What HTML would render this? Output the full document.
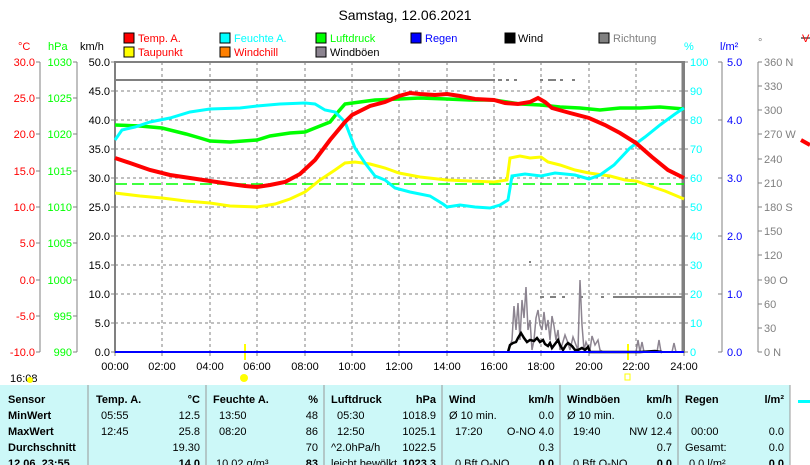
<!DOCTYPE html>
<html><head><meta charset="utf-8"><style>
body{margin:0;background:#fff;width:810px;height:465px;overflow:hidden;font-family:"Liberation Sans",sans-serif;}
svg{position:absolute;left:0;top:0}
.t{font-size:11px}
</style></head><body>
<svg width="810" height="465" xmlns="http://www.w3.org/2000/svg" font-family="Liberation Sans, sans-serif" font-size="11">
<text x="405" y="20" text-anchor="middle" font-size="14">Samstag, 12.06.2021</text>
<!-- legend -->
<g stroke="#000" stroke-width="1">
<rect x="124" y="33" width="10" height="10" fill="#f00"/><rect x="220" y="33" width="10" height="10" fill="#0ff"/><rect x="316" y="33" width="10" height="10" fill="#0f0"/><rect x="411" y="33" width="10" height="10" fill="#00f"/><rect x="505" y="33" width="10" height="10" fill="#000"/><rect x="599" y="33" width="10" height="10" fill="#808080"/>
<rect x="124" y="47" width="10" height="10" fill="#ff0"/><rect x="220" y="47" width="10" height="10" fill="#ff8000"/><rect x="316" y="47" width="10" height="10" fill="#8c8490"/>
</g>
<g class="t">
<text x="138" y="42" fill="#f00">Temp. A.</text><text x="234" y="42" fill="#0ff">Feuchte A.</text><text x="330" y="42" fill="#0f0">Luftdruck</text><text x="425" y="42" fill="#00f">Regen</text><text x="518" y="42">Wind</text><text x="613" y="42" fill="#808080">Richtung</text>
<text x="138" y="56" fill="#f00">Taupunkt</text><text x="234" y="56" fill="#f00">Windchill</text><text x="330" y="56">Windböen</text>
<text x="18" y="50" fill="#f00">°C</text><text x="48" y="50" fill="#0f0">hPa</text><text x="80" y="50">km/h</text>
<text x="684" y="50" fill="#0ff">%</text><text x="720" y="50" fill="#00f">l/m²</text><text x="758" y="46" fill="#808080">°</text>
</g>
<!-- grid -->
<g stroke="#808080" stroke-dasharray="3,3" stroke-width="1">
<line x1="115" y1="91" x2="684" y2="91"/><line x1="115" y1="120" x2="684" y2="120"/><line x1="115" y1="149" x2="684" y2="149"/><line x1="115" y1="178" x2="684" y2="178"/><line x1="115" y1="207" x2="684" y2="207"/><line x1="115" y1="236" x2="684" y2="236"/><line x1="115" y1="265" x2="684" y2="265"/><line x1="115" y1="294" x2="684" y2="294"/><line x1="115" y1="323" x2="684" y2="323"/>
<line x1="162" y1="62" x2="162" y2="352"/><line x1="210" y1="62" x2="210" y2="352"/><line x1="257" y1="62" x2="257" y2="352"/><line x1="305" y1="62" x2="305" y2="352"/><line x1="352" y1="62" x2="352" y2="352"/><line x1="399" y1="62" x2="399" y2="352"/><line x1="447" y1="62" x2="447" y2="352"/><line x1="494" y1="62" x2="494" y2="352"/><line x1="541" y1="62" x2="541" y2="352"/><line x1="589" y1="62" x2="589" y2="352"/><line x1="636" y1="62" x2="636" y2="352"/>
</g>
<rect x="115" y="62" width="569" height="290" fill="none" stroke="#808080" stroke-width="2"/>
<line x1="683" y1="62" x2="683" y2="352" stroke="#808080" stroke-width="3"/>
<!-- axes -->
<g stroke="#808080">
<line x1="40" y1="62" x2="40" y2="352"/><line x1="77" y1="62" x2="77" y2="352"/><line x1="722" y1="62" x2="722" y2="352"/><line x1="758" y1="62" x2="758" y2="352"/>
</g>
<g id="ticks" stroke="#808080">
<path d="M36 62h4M36 98h4M36 134h4M36 171h4M36 207h4M36 243h4M36 280h4M36 316h4M36 352h4M73 62h4M73 98h4M73 134h4M73 171h4M73 207h4M73 243h4M73 280h4M73 316h4M73 352h4M111 62h4M111 91h4M111 120h4M111 149h4M111 178h4M111 207h4M111 236h4M111 265h4M111 294h4M111 323h4M111 352h4M684 62h4M684 91h4M684 120h4M684 149h4M684 178h4M684 207h4M684 236h4M684 265h4M684 294h4M684 323h4M684 352h4M718 62h4M718 120h4M718 178h4M718 236h4M718 294h4M718 352h4M758 62h4M758 86h4M758 110h4M758 134h4M758 159h4M758 183h4M758 207h4M758 231h4M758 255h4M758 280h4M758 304h4M758 328h4M758 352h4"/>
<path d="M115 352v4M162 352v4M210 352v4M257 352v4M305 352v4M352 352v4M399 352v4M447 352v4M494 352v4M541 352v4M589 352v4M636 352v4M684 352v4"/>
</g>
<g font-size="11" text-anchor="end" fill="#f00">
<text x="35" y="66">30.0</text><text x="35" y="102">25.0</text><text x="35" y="138">20.0</text><text x="35" y="175">15.0</text><text x="35" y="211">10.0</text><text x="35" y="247">5.0</text><text x="35" y="284">0.0</text><text x="35" y="320">-5.0</text><text x="35" y="356">-10.0</text>
</g>
<g font-size="11" text-anchor="end" fill="#0f0">
<text x="72" y="66">1030</text><text x="72" y="102">1025</text><text x="72" y="138">1020</text><text x="72" y="175">1015</text><text x="72" y="211">1010</text><text x="72" y="247">1005</text><text x="72" y="284">1000</text><text x="72" y="320">995</text><text x="72" y="356">990</text>
</g>
<g font-size="11" text-anchor="end">
<text x="110" y="66">50.0</text><text x="110" y="95">45.0</text><text x="110" y="124">40.0</text><text x="110" y="153">35.0</text><text x="110" y="182">30.0</text><text x="110" y="211">25.0</text><text x="110" y="240">20.0</text><text x="110" y="269">15.0</text><text x="110" y="298">10.0</text><text x="110" y="327">5.0</text><text x="110" y="356">0.0</text>
</g>
<g font-size="11" fill="#0ff">
<text x="690" y="66">100</text><text x="690" y="95">90</text><text x="690" y="124">80</text><text x="690" y="153">70</text><text x="690" y="182">60</text><text x="690" y="211">50</text><text x="690" y="240">40</text><text x="690" y="269">30</text><text x="690" y="298">20</text><text x="690" y="327">10</text><text x="690" y="356">0</text>
</g>
<g font-size="11" fill="#00f">
<text x="727" y="66">5.0</text><text x="727" y="124">4.0</text><text x="727" y="182">3.0</text><text x="727" y="240">2.0</text><text x="727" y="298">1.0</text><text x="727" y="356">0.0</text>
</g>
<g font-size="11" fill="#808080">
<text x="764" y="66">360 N</text><text x="764" y="90">330</text><text x="764" y="114">300</text><text x="764" y="138">270 W</text><text x="764" y="163">240</text><text x="764" y="187">210</text><text x="764" y="211">180 S</text><text x="764" y="235">150</text><text x="764" y="259">120</text><text x="764" y="284">90  O</text><text x="764" y="308">60</text><text x="764" y="332">30</text><text x="764" y="356">0   N</text>
</g>
<g font-size="11" text-anchor="middle">
<text x="115" y="370">00:00</text><text x="162" y="370">02:00</text><text x="210" y="370">04:00</text><text x="257" y="370">06:00</text><text x="305" y="370">08:00</text><text x="352" y="370">10:00</text><text x="399" y="370">12:00</text><text x="447" y="370">14:00</text><text x="494" y="370">16:00</text><text x="541" y="370">18:00</text><text x="589" y="370">20:00</text><text x="636" y="370">22:00</text><text x="684" y="370">24:00</text>
</g>
<text x="10" y="382" font-size="11">16:08</text>
<circle cx="30" cy="380" r="3" fill="#ff0"/>
<circle cx="244" cy="378" r="4" fill="#ff0"/>
<rect x="625" y="374" width="5" height="6" fill="none" stroke="#ff0"/>
<line x1="245" y1="344" x2="245" y2="360" stroke="#ff0" stroke-width="2"/>
<line x1="628" y1="344" x2="628" y2="360" stroke="#ff0" stroke-width="2"/>
<!-- direction -->
<line x1="115" y1="80" x2="495" y2="80" stroke="#808080" stroke-width="2"/>
<path d="M498 80h4M506 80h3M514 80h3M540 80h3M548 80h8M560 80h3M572 80h3" stroke="#808080" stroke-width="2"/>
<line x1="613" y1="297" x2="684" y2="297" stroke="#808080" stroke-width="2"/>
<path d="M540 297h4M550 297h6M562 297h3M580 297h3M601 297h3M529 262h2" stroke="#808080" stroke-width="2"/>
<!-- gusts -->
<polyline fill="none" stroke="#8c8490" stroke-width="1.5" points="508,352 512,340 514,306 516,330 518,303 520,340 522,300 524,318 526,287 528,330 530,320 532,350 534,340 536,318 538,310 540,325 542,330 544,312 546,330 548,320 550,340 552,316 554,326 556,340 558,330 560,350 562,345 565,335 568,343 570,350 573,337 576,345 578,350 580,280 582,325 584,350 586,342 588,347 590,350 592,336 595,345 598,340 600,350 603,352 636,352 638,340 640,352 642,342 644,352 657,352 659,340 661,352 672,352 674,343 676,352"/>
<polyline fill="none" stroke="#000" stroke-width="2.5" points="508,352 510,345 513,343 516,342 518,338 521,333 524,338 527,342 530,340 534,341 537,338 540,342 543,340 545,344 548,346 550,343 552,348 555,344 558,340 560,345 563,350 566,345 568,343 572,346 575,350 578,350 582,348 585,350 588,347 590,352 595,352 630,352 640,352 655,351 662,352"/>
<line x1="115" y1="352" x2="684" y2="352" stroke="#00f" stroke-width="2"/>
<!-- dashed green -->
<line x1="115" y1="184" x2="684" y2="184" stroke="#0f0" stroke-width="1.5" stroke-dasharray="12,5"/>
<!-- series -->
<polyline fill="none" stroke="#ff0" stroke-width="3" points="115,193 140,196 162,198 186,201 210,203 230,206 257,207 275,204 290,199 305,192 320,180 335,170 345,163 355,162 370,164 385,168 399,173 420,177 447,180 470,181 494,182 507,180 510,158 520,156 530,158 541,157 548,162 560,165 575,170 589,173 610,176 625,180 636,181 650,186 665,191 684,199"/>
<polyline fill="none" stroke="#0f0" stroke-width="3.5" points="115,125 140,126 162,128 186,134 200,138 210,141 230,142 257,140 270,136 290,133 305,132 320,126 330,122 338,112 345,104 360,102 375,100 399,99 420,98 447,99 470,100 494,100 520,104 541,105 560,107 580,108 600,110 620,108 640,108 660,107 684,109"/>
<polyline fill="none" stroke="#0ff" stroke-width="3" points="115,140 122,130 135,127 150,122 170,118 190,112 210,109 240,108 257,106 280,104 305,103 315,104 325,110 335,112 345,122 355,148 365,163 375,176 385,180 395,188 410,192 430,196 443,204 447,207 460,205 475,207 490,208 500,205 508,200 512,176 525,174 541,176 555,173 575,175 589,179 600,175 614,165 630,148 645,137 660,125 675,114 684,108"/>
<polyline fill="none" stroke="#f00" stroke-width="4" points="115,158 130,163 150,170 170,175 190,178 210,181 230,184 245,186 257,187 270,185 285,182 300,174 315,160 330,140 345,122 352,115 370,106 385,102 399,96 410,93 420,94 435,95 447,94 460,96 475,99 494,100 505,103 518,104 530,102 538,98 545,102 552,108 570,113 589,118 605,125 620,133 636,143 652,157 668,170 684,178"/>
<!-- right partial -->
<path d="M801 38h10" stroke="#808080" stroke-width="2"/><text x="802" y="42" fill="#f00" font-size="11">V</text>
<path d="M801 140l9 5" stroke="#f00" stroke-width="4"/>
<!-- table -->
<rect x="0" y="385" width="790" height="80" fill="#ccf8f8"/>
<g stroke="#999" stroke-width="1">
<line x1="88" y1="385" x2="88" y2="465"/><line x1="206" y1="385" x2="206" y2="465"/><line x1="324" y1="385" x2="324" y2="465"/><line x1="442" y1="385" x2="442" y2="465"/><line x1="560" y1="385" x2="560" y2="465"/><line x1="678" y1="385" x2="678" y2="465"/><line x1="790" y1="385" x2="790" y2="465"/>
</g>
<rect x="798" y="400" width="12" height="3" fill="#0ff"/>
<g font-size="11" font-weight="bold">
<text x="8" y="403">Sensor</text><text x="8" y="419">MinWert</text><text x="8" y="435">MaxWert</text><text x="8" y="451">Durchschnitt</text><text x="8" y="467">12.06. 23:55</text>
<text x="96" y="403">Temp. A.</text><text x="200" y="403" text-anchor="end">°C</text>
<text x="213" y="403">Feuchte A.</text><text x="318" y="403" text-anchor="end">%</text>
<text x="331" y="403">Luftdruck</text><text x="436" y="403" text-anchor="end">hPa</text>
<text x="449" y="403">Wind</text><text x="554" y="403" text-anchor="end">km/h</text>
<text x="567" y="403">Windböen</text><text x="672" y="403" text-anchor="end">km/h</text>
<text x="685" y="403">Regen</text><text x="784" y="403" text-anchor="end">l/m²</text>
<text x="200" y="467" text-anchor="end">14.0</text><text x="318" y="467" text-anchor="end">83</text><text x="436" y="467" text-anchor="end">1023.3</text><text x="554" y="467" text-anchor="end">0.0</text><text x="672" y="467" text-anchor="end">0.0</text><text x="784" y="467" text-anchor="end">0.0</text>
</g>
<g font-size="11">
<text x="101" y="419">05:55</text><text x="200" y="419" text-anchor="end">12.5</text>
<text x="101" y="435">12:45</text><text x="200" y="435" text-anchor="end">25.8</text>
<text x="200" y="451" text-anchor="end">19.30</text>
<text x="219" y="419">13:50</text><text x="318" y="419" text-anchor="end">48</text>
<text x="219" y="435">08:20</text><text x="318" y="435" text-anchor="end">86</text>
<text x="318" y="451" text-anchor="end">70</text><text x="216" y="467">10.02 g/m³</text>
<text x="337" y="419">05:30</text><text x="436" y="419" text-anchor="end">1018.9</text>
<text x="337" y="435">12:50</text><text x="436" y="435" text-anchor="end">1025.1</text>
<text x="331" y="451">^2.0hPa/h</text><text x="436" y="451" text-anchor="end">1022.5</text><text x="331" y="467">leicht bewölkt</text>
<text x="449" y="419">Ø 10 min.</text><text x="554" y="419" text-anchor="end">0.0</text>
<text x="455" y="435">17:20</text><text x="554" y="435" text-anchor="end">O-NO 4.0</text>
<text x="554" y="451" text-anchor="end">0.3</text><text x="455" y="467">0 Bft O-NO</text>
<text x="567" y="419">Ø 10 min.</text><text x="672" y="419" text-anchor="end">0.0</text>
<text x="573" y="435">19:40</text><text x="672" y="435" text-anchor="end">NW 12.4</text>
<text x="672" y="451" text-anchor="end">0.7</text><text x="573" y="467">0 Bft O-NO</text>
<text x="691" y="435">00:00</text><text x="784" y="435" text-anchor="end">0.0</text>
<text x="685" y="451">Gesamt:</text><text x="784" y="451" text-anchor="end">0.0</text><text x="689" y="467">0.0 l/m²</text>
</g>
</svg>
</body></html>
